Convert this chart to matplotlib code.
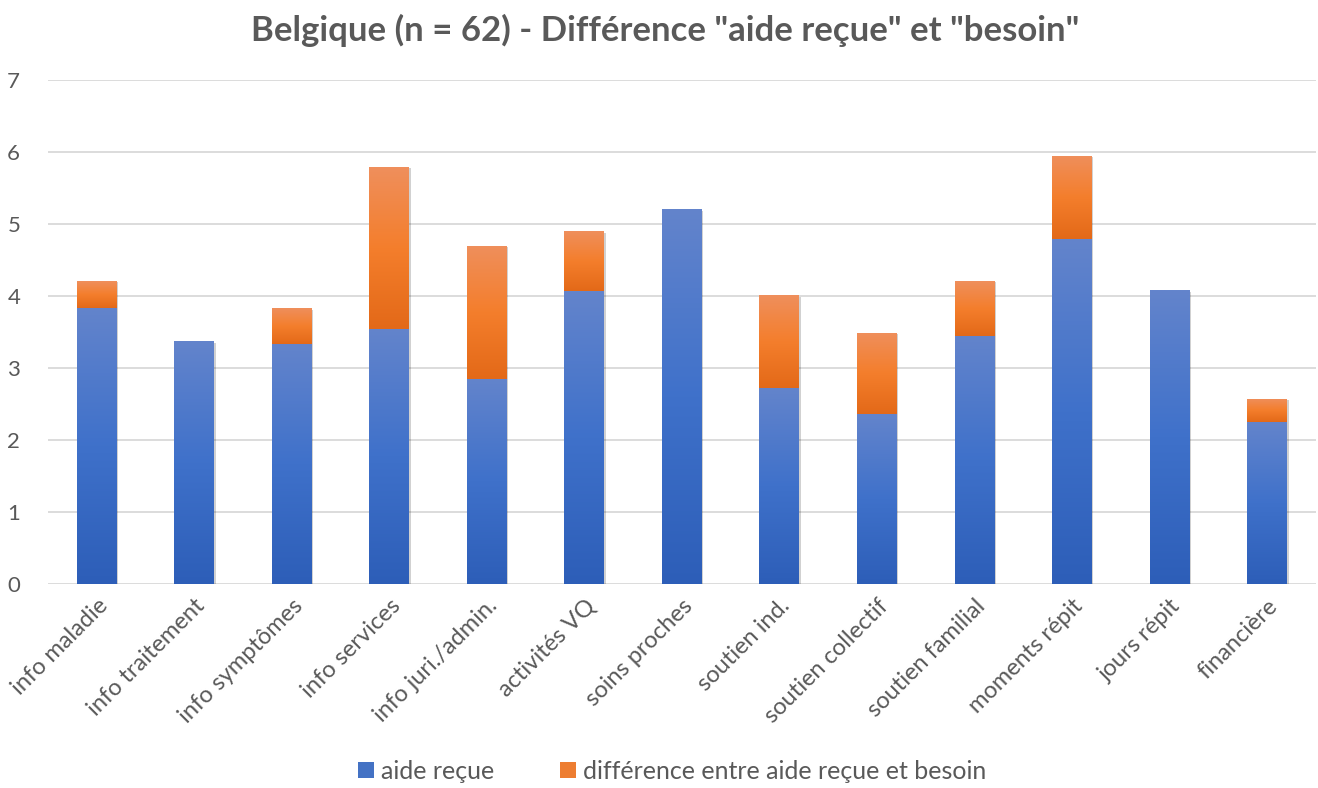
import numpy as np
import matplotlib.pyplot as plt
import matplotlib.patheffects as pe
from matplotlib.colors import LinearSegmentedColormap
from matplotlib.patches import Patch

# === DONNÉES ===
categories = ["info maladie", "info traitement", "info symptômes", "info services",
              "info juri./admin.", "activités VQ", "soins proches", "soutien ind.",
              "soutien collectif", "soutien familial", "moments répit", "jours répit",
              "financière"]
aide_recue = [3.84, 3.37, 3.33, 3.55, 2.85, 4.07, 5.21, 2.72, 2.36, 3.45, 4.79, 4.08, 2.25]
difference = [0.37, 0.00, 0.50, 2.25, 1.85, 0.83, 0.00, 1.29, 1.13, 0.76, 1.16, 0.00, 0.32]
legend_labels = ["aide reçue", "différence entre aide reçue et besoin"]

TEXT = "#595959"
plt.rcParams['font.family'] = ['Lato', 'DejaVu Sans']

blue_cmap = LinearSegmentedColormap.from_list("b", ["#2d5eb8", "#3f71ca", "#6384cc"])
orange_cmap = LinearSegmentedColormap.from_list("o", ["#e36918", "#f47e2c", "#ef8f5c"])
grad = np.linspace(0, 1, 256).reshape(-1, 1)


def fill_gradient(ax, bars, cmap):
    # dégradé vertical façon Excel, relatif à chaque barre
    for b in bars:
        h = b.get_height()
        if h <= 0:
            b.set_visible(False)
            continue
        x0, y0 = b.get_x(), b.get_y()
        im = ax.imshow(grad, cmap=cmap, aspect="auto", origin="lower",
                       extent=[x0, x0 + b.get_width(), y0, y0 + h], zorder=3)
        im.set_clip_path(b)


fig = plt.figure(figsize=(13.18, 7.88), dpi=100)
ax = fig.add_axes([0.0364, 0.259, 0.962, 0.639])

x = np.arange(len(categories))
width = 0.41
shadow = [pe.SimplePatchShadow(offset=(1, -1), shadow_rgbFace="#000000", alpha=0.18), pe.Normal()]
b1 = ax.bar(x, aide_recue, width, color="#4472c4", zorder=2, path_effects=shadow)
b2 = ax.bar(x, difference, width, bottom=aide_recue, color="#ed7d31", zorder=2, path_effects=shadow)
fill_gradient(ax, b1, blue_cmap)
fill_gradient(ax, b2, orange_cmap)

ax.set_xlim(-0.5, len(categories) - 0.5)
ax.set_ylim(0, 7)
ax.set_yticks(range(8))
ax.yaxis.grid(True, color="#d9d9d9", linewidth=1.3)
ax.set_axisbelow(True)
for s in ax.spines.values():
    s.set_visible(False)
ax.tick_params(axis="both", length=0, colors=TEXT, labelsize=16)
ax.tick_params(axis="y", pad=20)
ax.set_xticks(x)
ax.set_xticklabels(categories, rotation=45, ha="right", rotation_mode="anchor", fontsize=17)
ax.tick_params(axis="x", pad=8)

fig.suptitle('Belgique (n = 62) - Différence "aide reçue" et "besoin"',
             x=0.505, y=0.982, fontsize=25, fontweight="bold", color=TEXT)

handles = [Patch(facecolor="#4472c4"), Patch(facecolor="#ed7d31")]
fig.legend(handles, legend_labels, loc="lower center", bbox_to_anchor=(0.510, -0.022),
           ncol=2, frameon=False, fontsize=18, labelcolor=TEXT,
           handlelength=0.65, handleheight=0.65, handletextpad=0.3, columnspacing=2.6)

fig.savefig("out.png", dpi=100)
plt.close(fig)
